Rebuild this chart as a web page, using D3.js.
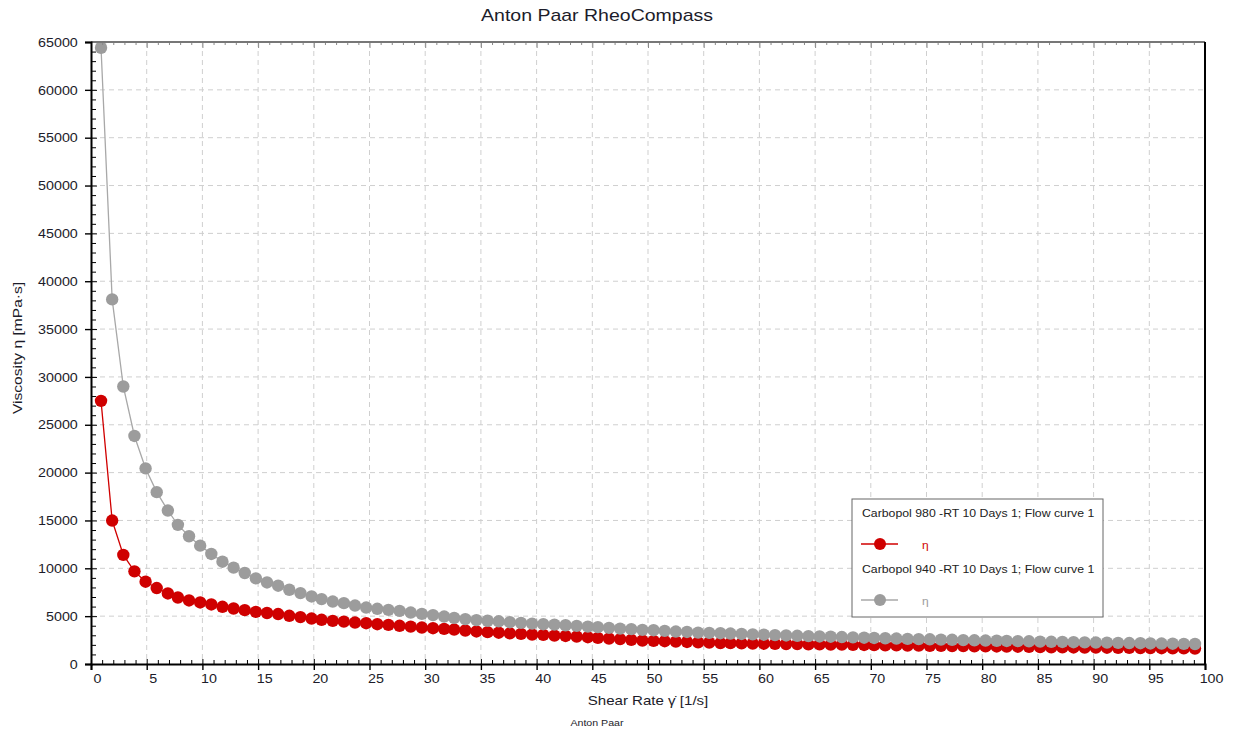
<!DOCTYPE html>
<html>
<head>
<meta charset="utf-8">
<script src="https://cdn.jsdelivr.net/npm/d3@7"></script>
<style>
  body { margin: 0; background: #fff; }
  svg { font-family: "Liberation Sans", Arial, sans-serif; }
  .tick text { fill: #1c1c2a; font-size: 13px; }
</style>
</head>
<body>
<svg id="chart" width="1236" height="733"></svg>
<script>
// shear rate [1/s], one value per measuring point
var shearRate = [0.9,1.9,2.9,3.9,4.9,5.9,6.9,7.8,8.8,9.8,
  10.8,11.8,12.8,13.8,14.8,15.8,16.8,17.8,18.8,19.8,
  20.7,21.7,22.7,23.7,24.7,25.7,26.7,27.7,28.7,29.7,
  30.7,31.7,32.6,33.6,34.6,35.6,36.6,37.6,38.6,39.6,
  40.6,41.6,42.6,43.6,44.6,45.5,46.5,47.5,48.5,49.5,
  50.5,51.5,52.5,53.5,54.5,55.5,56.5,57.4,58.4,59.4,
  60.4,61.4,62.4,63.4,64.4,65.4,66.4,67.4,68.4,69.4,
  70.3,71.3,72.3,73.3,74.3,75.3,76.3,77.3,78.3,79.3,
  80.3,81.3,82.2,83.2,84.2,85.2,86.2,87.2,88.2,89.2,
  90.2,91.2,92.2,93.2,94.2,95.1,96.1,97.1,98.1,99.1];

// viscosity [mPa·s], Carbopol 980
var visc980 = [27500,14990,11400,9680,8600,7940,7370,6950,6640,6430,
  6220,5980,5800,5630,5450,5330,5220,5040,4900,4750,
  4620,4510,4430,4330,4260,4160,4090,3990,3910,3810,
  3740,3670,3600,3500,3400,3330,3270,3210,3150,3080,
  3040,2970,2930,2870,2800,2730,2660,2600,2530,2450,
  2420,2380,2340,2300,2270,2230,2190,2180,2160,2140,
  2120,2100,2090,2080,2060,2050,2030,2020,2000,1990,
  1970,1960,1950,1930,1920,1900,1890,1880,1870,1850,
  1840,1830,1820,1810,1800,1760,1750,1740,1730,1720,
  1710,1700,1690,1680,1670,1660,1650,1640,1630,1610];

// viscosity [mPa·s], Carbopol 940
var visc940 = [64400,38100,29000,23830,20440,17960,16040,14540,13350,12370,
  11500,10690,10070,9510,8950,8520,8180,7760,7410,7060,
  6780,6530,6360,6110,5900,5770,5660,5550,5380,5240,
  5110,4960,4820,4690,4590,4520,4460,4370,4300,4220,
  4160,4110,4050,3980,3910,3850,3770,3700,3640,3570,
  3530,3460,3390,3350,3280,3250,3220,3180,3140,3100,
  3060,3020,2980,2950,2910,2880,2850,2820,2780,2750,
  2720,2690,2660,2630,2600,2580,2550,2530,2500,2480,
  2450,2430,2410,2390,2370,2340,2320,2300,2280,2260,
  2240,2230,2210,2190,2170,2150,2140,2120,2100,2090];

var xTicks = [0,5,10,15,20,25,30,35,40,45,50,55,60,65,70,75,80,85,90,95,100];
var yTicks = [0,5000,10000,15000,20000,25000,30000,35000,40000,45000,50000,55000,60000,65000];

var series = [
  { name: "Carbopol 980 -RT 10 Days 1; Flow curve 1", values: visc980, color: "#cf0000", line: "#d00000" },
  { name: "Carbopol 940 -RT 10 Days 1; Flow curve 1", values: visc940, color: "#9c9c9c", line: "#a8a8a8" }
];

var svg = d3.select("#chart");
var x = d3.scaleLinear().domain([0, 100]).range([91, 1205]);
var y = d3.scaleLinear().domain([0, 65000]).range([664, 42]);

// the original export is a little wider than the fonts, stretch texts horizontally
function label(px, py, k, rot) {
  return svg.append("text")
    .attr("transform", "translate(" + px + "," + py + ")" + (rot ? " rotate(" + rot + ")" : "") + " scale(" + k + ",1)")
    .attr("text-anchor", "middle").attr("fill", "#1c1c2a");
}

// grid
svg.append("g").selectAll("line").data(xTicks.slice(1, -1)).enter().append("line")
   .attr("x1", function(d) { return x(d); }).attr("x2", function(d) { return x(d); })
   .attr("y1", y(65000)).attr("y2", y(0))
   .attr("stroke", "#cfcfcf").attr("stroke-dasharray", "5,4");
svg.append("g").selectAll("line").data(yTicks.slice(1, -1)).enter().append("line")
   .attr("x1", x(0)).attr("x2", x(100))
   .attr("y1", function(d) { return y(d); }).attr("y2", function(d) { return y(d); })
   .attr("stroke", "#cfcfcf").attr("stroke-dasharray", "5,4");

// curves
var line = d3.line()
  .x(function(d, i) { return x(shearRate[i]); })
  .y(function(d) { return y(d); });

series.forEach(function(s) {
  svg.append("path").datum(s.values)
     .attr("d", line).attr("fill", "none")
     .attr("stroke", s.line).attr("stroke-width", 1.3);
  svg.append("g").selectAll("circle").data(s.values).enter().append("circle")
     .attr("cx", function(d, i) { return x(shearRate[i]); })
     .attr("cy", function(d) { return y(d); })
     .attr("r", 6.2)
     .attr("fill", s.color);
});

// minor ticks
var minorX = d3.range(0, 101).filter(function(d) { return d % 5 != 0; });
var minorY = d3.range(0, 65001, 1000).filter(function(d) { return d % 5000 != 0; });

svg.append("g").attr("transform", "translate(0," + y(0) + ")")
   .call(d3.axisBottom(x).tickValues(minorX).tickSize(-4).tickFormat(""))
   .call(function(g) { g.select(".domain").remove(); });
svg.append("g").attr("transform", "translate(" + x(0) + ",0)")
   .call(d3.axisLeft(y).tickValues(minorY).tickSize(-5).tickFormat(""))
   .call(function(g) { g.select(".domain").remove(); });
svg.append("g").attr("transform", "translate(0," + y(65000) + ")")
   .call(d3.axisTop(x).tickValues(minorX).tickSize(-3).tickFormat(""))
   .call(function(g) { g.select(".domain").remove(); g.selectAll("line").attr("stroke", "#888"); });
svg.append("g").attr("transform", "translate(0," + y(65000) + ")")
   .call(d3.axisTop(x).tickValues(xTicks).tickSize(-6).tickFormat(""))
   .call(function(g) { g.select(".domain").remove(); g.selectAll("line").attr("stroke", "#888"); });

// inner half of major ticks
svg.append("g").attr("transform", "translate(0," + y(0) + ")")
   .call(d3.axisBottom(x).tickValues(xTicks).tickSize(-5).tickFormat(""))
   .call(function(g) { g.select(".domain").remove(); });
svg.append("g").attr("transform", "translate(" + x(0) + ",0)")
   .call(d3.axisLeft(y).tickValues(yTicks).tickSize(-6).tickFormat(""))
   .call(function(g) { g.select(".domain").remove(); });

// frame: top grey, right black
svg.append("line").attr("x1", x(0)).attr("x2", x(100)).attr("y1", y(65000)).attr("y2", y(65000))
   .attr("stroke", "#777").attr("stroke-width", 2);
svg.append("line").attr("x1", x(100)).attr("x2", x(100)).attr("y1", y(65000)).attr("y2", y(0))
   .attr("stroke", "#000").attr("stroke-width", 2);

// main axes
var xAxis = svg.append("g").attr("transform", "translate(0," + y(0) + ")")
   .call(d3.axisBottom(x).tickValues(xTicks).tickSize(6).tickPadding(4));
xAxis.selectAll(".tick text").attr("dx", 5.5).attr("transform", "scale(1.1,1)");
var yAxis = svg.append("g").attr("transform", "translate(" + x(0) + ",0)")
   .call(d3.axisLeft(y).tickValues(yTicks).tickSize(6).tickPadding(6).tickFormat(d3.format("d")));
yAxis.selectAll(".tick text").attr("transform", "scale(1.1,1)");
[xAxis, yAxis].forEach(function(g) {
  g.select(".domain").attr("stroke-width", 2).attr("stroke", "#000");
  g.selectAll(".tick line").attr("stroke-width", 1.4);
});

// titles
label(597, 21, 1.22).attr("font-size", 16).text("Anton Paar RheoCompass");
label(648, 705, 1.16).attr("font-size", 13).text("Shear Rate \u03B3\u0307 [1/s]");
label(22, 348, 1.2, -90).attr("font-size", 13).text("Viscosity \u03B7 [mPa\u00B7s]");
label(597, 726, 1.25).attr("font-size", 8.5).text("Anton Paar");

// legend
var legend = svg.append("g").attr("transform", "translate(852,499)");
legend.append("rect").attr("width", 251).attr("height", 118)
      .attr("fill", "#fff").attr("stroke", "#666").attr("stroke-width", 1);
series.forEach(function(s, i) {
  var g = legend.append("g").attr("transform", "translate(0," + (i * 56) + ")");
  g.append("text").attr("transform", "translate(10,18) scale(1.23,1)")
   .attr("font-size", 10).attr("fill", "#222").text(s.name);
  g.append("line").attr("x1", 9).attr("x2", 46).attr("y1", 45).attr("y2", 45)
   .attr("stroke", s.line).attr("stroke-width", 1.5);
  g.append("circle").attr("cx", 28).attr("cy", 45).attr("r", 6).attr("fill", s.color);
  g.append("text").attr("transform", "translate(70,50) scale(1.2,1)")
   .attr("font-size", 10).attr("fill", s.color).text("\u03B7");
});
</script>
</body>
</html>
